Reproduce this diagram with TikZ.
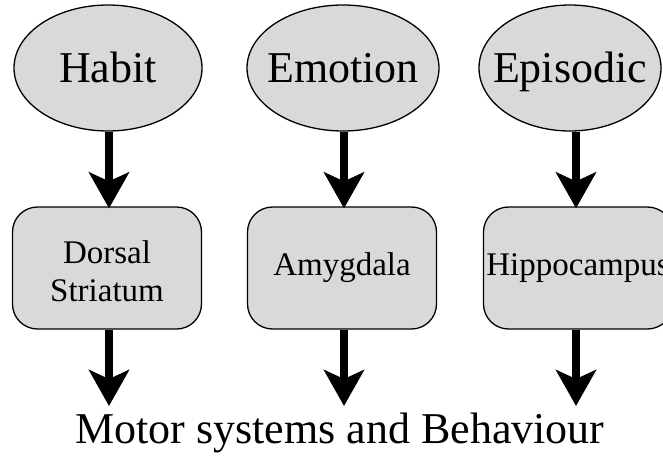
\documentclass[tikz,border=0pt]{standalone}
\usepackage{fontspec}
\setmainfont{Liberation Serif}
\usetikzlibrary{arrows.meta,shapes.geometric}
\definecolor{boxgray}{gray}{0.85}
\newcommand{\flatlabel}[1]{\makebox[0pt]{#1}}
\begin{document}
\begin{tikzpicture}[x=1pt,y=-1pt,
  memory/.style={ellipse,draw=black,line width=1.3pt,fill=boxgray,inner sep=0pt,
    minimum width=188pt,minimum height=126pt,text height=32pt,text depth=4pt,
    font=\fontsize{44}{48}\selectfont},
  region/.style={rectangle,rounded corners=25pt,draw=black,line width=1.3pt,fill=boxgray,
    inner sep=0pt,minimum width=189pt,minimum height=122pt,align=center,
    font=\fontsize{33}{38}\selectfont},
  flow/.style={line width=8pt,-{Stealth[length=36pt,width=40pt,inset=9pt]}}]
\useasboundingbox (0,0) rectangle (663,455);

% memory systems
\node[memory] (habit) at (108,68) {\flatlabel{Habit}};
\node[memory,minimum width=192pt] (emotion) at (343,68) {\flatlabel{Emotion}};
\node[memory,minimum width=182pt] (episodic) at (570,68) {\flatlabel{Episodic}};

% brain regions
\node[region] (dorsal) at (107,268) {};
\node[font=\fontsize{33}{38}\selectfont,align=center,inner sep=0pt] (dorsaltext)
  at ([yshift=-3pt]dorsal.center) {Dorsal\\Striatum};
\node[region] (amyg) at (342,268) {Amygdala};
\node[region] (hippo) at (578,268) {Hippocampus};

% output
\node[inner sep=0pt,anchor=base,font=\fontsize{44}{48}\selectfont] (motor) at (340,443)
  {Motor systems and Behaviour};
\coordinate (endA) at (109,406);
\coordinate (endB) at (344,406);
\coordinate (endC) at (576,406);

% connectors
\draw[flow] ([xshift=1pt]habit.south) -- ([xshift=1pt,yshift=-2pt]habit.south |- dorsal.north);
\draw[flow] ([xshift=1pt]emotion.south) -- ([xshift=1pt,yshift=-2pt]emotion.south |- amyg.north);
\draw[flow] ([xshift=6pt]episodic.south) -- ([xshift=6pt,yshift=-2pt]episodic.south |- hippo.north);
\draw[flow] (dorsal.south -| endA) -- (endA);
\draw[flow] (amyg.south -| endB) -- (endB);
\draw[flow] (hippo.south -| endC) -- (endC);
\end{tikzpicture}
\end{document}
